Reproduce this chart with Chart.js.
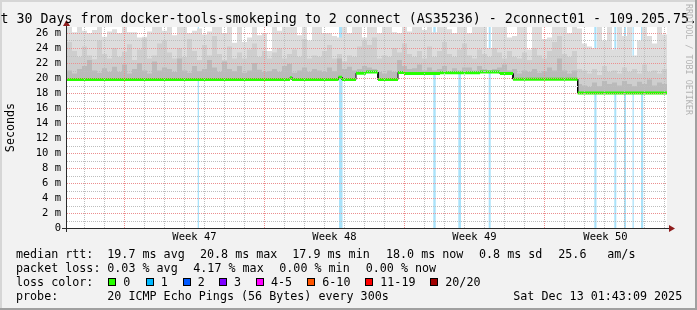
<!DOCTYPE html>
<html>
<head>
<meta charset="utf-8">
<script src="https://cdn.jsdelivr.net/npm/chart.js@4.4.1/dist/chart.umd.min.js"></script>
<style>
  html, body { margin: 0; padding: 0; background: #f2f2f2; }
  canvas { display: block; }
</style>
</head>
<body>
<canvas id="smokeChart" width="697" height="310"></canvas>
<script>
// ====================================================================
// DADOS - eixo x em dias desde o início da janela
// ====================================================================
const totalDays = 30;
const colStep = 0.25; // cada coluna de fumaça = 6 h

// topo de cada faixa de fumaça, por coluna (ms)
const smokeLight = [
  26.8, 26.1, 26.8, 26.3, 26.0, 26.4, 26.8, 25.5, 26.2, 26.5,
  26.0, 26.8, 26.1, 26.1, 25.4, 25.5, 26.2, 26.8, 26.8, 26.3,
  26.8, 25.7, 26.8, 26.8, 26.0, 26.3, 26.6, 25.8, 26.2, 26.8,
  26.8, 26.0, 26.8, 24.7, 26.8, 24.8, 25.4, 26.8, 25.7, 26.0,
  23.6, 26.8, 26.3, 26.8, 26.8, 26.8, 25.7, 26.8, 25.0, 26.8,
  26.8, 26.0, 26.0, 25.6, 25.4, 26.8, 26.0, 26.8, 26.8, 25.4,
  26.8, 26.8, 26.0, 26.8, 26.8, 26.1, 26.0, 26.8, 26.2, 26.8,
  26.8, 26.4, 26.8, 26.1, 26.8, 26.8, 26.5, 26.0, 26.8, 26.8,
  26.0, 26.8, 26.8, 26.8, 24.0, 26.8, 26.8, 26.8, 25.4, 25.6,
  26.8, 26.8, 23.8, 26.8, 26.8, 25.2, 25.4, 26.8, 26.8, 26.8,
  26.0, 26.8, 26.6, 24.6, 24.2, 24.0, 26.8, 25.0, 26.8, 23.8,
  26.8, 25.6, 26.8, 23.0, 25.0, 26.8, 25.6, 24.6, 26.8, 25.8
];
const smokeMid = [
  24.8, 23.6, 22.8, 24.2, 23.0, 22.5, 25.0, 23.2, 22.6, 24.0,
  22.8, 23.5, 24.5, 22.4, 23.8, 25.3, 22.6, 23.0, 24.6, 25.0,
  23.4, 22.6, 24.0, 22.8, 25.2, 23.6, 22.4, 24.4, 23.0, 25.6,
  23.2, 22.4, 24.2, 22.6, 23.4, 22.6, 23.8, 24.6, 22.8, 23.6,
  22.6, 23.4, 24.0, 22.6, 23.2, 23.8, 22.8, 25.2, 22.6, 23.0,
  22.8, 23.6, 24.4, 22.6, 23.2, 22.2, 23.0, 22.8, 24.2, 25.0,
  24.4, 25.4, 22.6, 23.0, 22.8, 24.0, 23.4, 24.6, 23.2, 22.8,
  23.6, 22.6, 24.2, 22.8, 23.6, 24.8, 23.2, 22.8, 23.8, 24.6,
  23.0, 22.6, 23.8, 23.2, 22.8, 24.0, 23.4, 22.6, 23.6, 22.8,
  22.6, 23.4, 22.4, 24.0, 23.0, 22.6, 23.6, 24.8, 25.6, 23.2,
  22.8, 23.6, 21.2, 21.0, 20.6, 21.2, 20.4, 21.6, 20.8, 21.0,
  20.6, 21.4, 20.8, 21.2, 20.6, 21.8, 20.8, 21.0, 20.6, 21.2
];
const smokeDark = [
  21.0, 20.6, 21.2, 21.6, 22.4, 21.0, 20.7, 21.3, 20.8, 21.5,
  20.8, 21.8, 20.6, 21.2, 22.0, 21.0, 20.6, 22.2, 21.0, 21.4,
  21.2, 20.8, 22.6, 21.0, 20.7, 21.6, 20.9, 21.2, 22.4, 21.4,
  20.8, 22.2, 21.2, 20.9, 21.6, 20.7, 21.0, 22.0, 21.1, 20.8,
  20.9, 21.2, 20.8, 21.6, 21.9, 20.7, 21.0, 21.4, 20.8, 21.2,
  21.0, 20.8, 21.4, 20.9, 22.6, 21.2, 21.5, 21.0, 21.2, 21.6,
  21.4, 21.2, 20.8, 20.6, 21.0, 20.8, 22.4, 21.6, 21.2, 21.3,
  21.8, 21.0, 21.4, 21.0, 21.2, 21.6, 20.9, 21.3, 21.0, 21.4,
  21.4, 21.0, 21.6, 21.2, 21.0, 21.2, 21.4, 21.8, 21.0, 21.2,
  20.6, 21.0, 20.8, 21.2, 20.7, 20.9, 21.4, 21.0, 22.6, 21.0,
  20.6, 21.0, 19.2, 19.0, 18.8, 19.4, 18.9, 19.6, 19.2, 19.4,
  19.0, 19.6, 19.2, 18.9, 19.5, 19.2, 19.8, 19.0, 19.4, 19.2
];

// mediana: início de cada patamar (dia) e valor (ms)
const medianDay = [0, 11.15, 11.25, 13.575, 13.75, 14.45, 14.95, 15.55, 16.55, 16.85, 18.65, 20.65, 21.65, 22.3, 25.535];
const medianVal = [19.8, 20.05, 19.8, 20.1, 19.8, 20.65, 20.8, 19.8, 20.75, 20.6, 20.7, 20.8, 20.6, 19.85, 18.0];

// barras de perda (início em dias, largura em dias)
const lossDay   = [6.535, 13.6, 18.315, 19.565, 21.085, 26.365, 27.365, 27.85, 28.275, 28.7];
const lossWidth = [0.065, 0.175, 0.12, 0.135, 0.1, 0.11, 0.1, 0.1, 0.065, 0.11];

// eixos
const yMax = 26.8;
const yTicks = [0, 1, 2, 3, 4, 5, 6, 7, 8, 9, 10, 11, 12, 13, 14, 15, 16, 17, 18, 19, 20, 21, 22, 23, 24, 25, 26];
const firstDayLine = 0.865;
const weekLines = [2.865, 9.865, 16.865, 23.865];
const weekPos = [6.375, 13.375, 20.375, 26.925];
const weekLabels = ['Week 47', 'Week 48', 'Week 49', 'Week 50'];

// legenda
const rttValues = ['19.7', '20.8', '17.9', '18.0', '0.8'];
const rttNames = ['avg', 'max', 'min', 'now', 'sd'];
const amsValue = '25.6';
const lossValues = ['0.03', '4.17', '0.00', '0.00'];
const lossNames = ['avg', 'max', 'min', 'now'];
const lossLabels = ['0', '1', '2', '3', '4-5', '6-10', '11-19', '20/20'];
const lossColors = ['#26ff00', '#00b8ff', '#0059ff', '#7e00ff', '#ff00ff', '#ff5500', '#ff0000', '#a00000'];

const MONO = '"DejaVu Sans Mono", monospace';

// ====================================================================
// MONTAGEM DOS PONTOS
// ====================================================================
function stepPoints(values) {
    const pts = [];
    values.forEach((v, i) => {
        pts.push({ x: i * colStep, y: v });
        pts.push({ x: (i + 1) * colStep, y: v });
    });
    return pts;
}

const medianLine = [];
const medianGreen = [];
medianDay.forEach((d, i) => {
    const end = i + 1 < medianDay.length ? medianDay[i + 1] : totalDays;
    medianLine.push({ x: d, y: medianVal[i] });
    medianLine.push({ x: end, y: medianVal[i] });
    medianGreen.push({ x: d, y: medianVal[i] });
    medianGreen.push({ x: end, y: medianVal[i] });
    medianGreen.push({ x: end, y: null });
});

const lossPoints = [{ x: 0, y: 0 }];
lossDay.forEach((d, i) => {
    lossPoints.push({ x: d, y: 0 });
    lossPoints.push({ x: d, y: yMax });
    lossPoints.push({ x: d + lossWidth[i], y: yMax });
    lossPoints.push({ x: d + lossWidth[i], y: 0 });
});
lossPoints.push({ x: totalDays, y: 0 });

const dayLines = [];
for (let k = 0; firstDayLine + k < totalDays; k++) dayLines.push(firstDayLine + k);

function isWeekLine(v) { return weekLines.some(w => Math.abs(w - v) < 1e-6); }

const GRID_MAJOR = '#ec8f8f';
const GRID_MINOR = '#bdbdbd';

// grade pontilhada pixel a pixel, desenhada por cima de tudo (como o rrdtool)
function drawGrid(chart) {
    const c = chart.ctx, a = chart.chartArea;
    const sx = chart.scales.x, sy = chart.scales.y;
    const left = Math.round(a.left), right = Math.round(a.right);
    const top = Math.round(a.top), bottom = Math.round(a.bottom);
    yTicks.forEach(v => {
        if (v === 0) return;
        const py = Math.round(sy.getPixelForValue(v));
        c.fillStyle = v % 2 === 0 ? GRID_MAJOR : GRID_MINOR;
        for (let px = left; px < right; px += 2) c.fillRect(px, py, 1, 1);
    });
    dayLines.forEach(v => {
        const px = Math.round(sx.getPixelForValue(v));
        c.fillStyle = isWeekLine(v) ? GRID_MAJOR : GRID_MINOR;
        for (let py = top; py < bottom; py += 2) c.fillRect(px, py, 1, 1);
    });
}

// ====================================================================
// MOLDURA, EIXOS E TEXTOS
// ====================================================================
const chromePlugin = {
    id: 'chrome',
    beforeDraw(chart) {
        const c = chart.ctx, a = chart.chartArea;
        c.save();
        c.fillStyle = '#f2f2f2';
        c.fillRect(0, 0, 697, 310);
        c.fillStyle = '#d6d6d6';
        c.fillRect(0, 0, 697, 2);
        c.fillRect(0, 0, 2, 310);
        c.fillStyle = '#a0a0a0';
        c.fillRect(0, 308, 697, 2);
        c.fillRect(695, 0, 2, 310);
        c.fillStyle = '#ffffff';
        c.fillRect(a.left, a.top, a.right - a.left, a.bottom - a.top);
        c.restore();
    },
    afterDraw(chart) {
        const c = chart.ctx, a = chart.chartArea;
        c.save();

        drawGrid(chart);

        // eixos
        c.strokeStyle = '#2a2a2a';
        c.lineWidth = 1;
        c.beginPath();
        c.moveTo(62, a.bottom + 0.5);
        c.lineTo(670, a.bottom + 0.5);
        c.moveTo(a.left - 0.5, a.bottom + 4);
        c.lineTo(a.left - 0.5, 25);
        c.stroke();

        c.fillStyle = '#8e1c1c';
        c.beginPath();
        c.moveTo(669, a.bottom - 3);
        c.lineTo(675, a.bottom + 0.5);
        c.lineTo(669, a.bottom + 4);
        c.closePath();
        c.fill();
        c.beginPath();
        c.moveTo(a.left - 4, 26);
        c.lineTo(a.left - 0.5, 20);
        c.lineTo(a.left + 3, 26);
        c.closePath();
        c.fill();

        // título
        c.fillStyle = '#000';
        c.font = '13.3px ' + MONO;
        c.textAlign = 'left';
        c.textBaseline = 'alphabetic';
        c.fillText('t 30 Days from docker-tools-smokeping to 2 connect (AS35236) - 2connect01 - 109.205.75.', 0.5, 23.3);

        // rótulo vertical
        c.save();
        c.font = '11.7px ' + MONO;
        c.translate(10.5, 127.5);
        c.rotate(-Math.PI / 2);
        c.textAlign = 'center';
        c.textBaseline = 'middle';
        c.fillText('Seconds', 0, 0);
        c.restore();

        // marca d'água
        c.save();
        c.font = '8.4px ' + MONO;
        c.fillStyle = '#b4b4b4';
        c.translate(685.5, 4);
        c.rotate(Math.PI / 2);
        c.textAlign = 'left';
        c.textBaseline = 'alphabetic';
        c.fillText('RRDTOOL / TOBI OETIKER', 0, 0);
        c.restore();

        // legenda
        c.font = '11.7px ' + MONO;
        c.fillStyle = '#000';
        const rttX = [107.3, 200, 292.3, 386, 479];
        c.fillText('median rtt:', 16, 258);
        rttValues.forEach((v, i) => {
            c.fillText(v + ' ms ' + rttNames[i], rttX[i], 258);
        });
        c.fillText(amsValue, 558.3, 258);
        c.fillText('am/s', 607.3, 258);

        const lossX = [107.3, 193.3, 279.3, 365.7];
        c.fillText('packet loss:', 16, 272);
        lossValues.forEach((v, i) => {
            c.fillText(v + ' % ' + lossNames[i], lossX[i], 272);
        });

        const boxX = [108.3, 145.7, 182.7, 219, 256, 307.3, 365.3, 430.3];
        c.fillText('loss color:', 16, 286);
        lossLabels.forEach((lab, i) => {
            const bx = Math.round(boxX[i]);
            c.fillStyle = lossColors[i];
            c.fillRect(bx, 278, 8, 8);
            c.strokeStyle = '#000';
            c.strokeRect(bx + 0.5, 278.5, 7, 7);
            c.fillStyle = '#000';
            c.fillText(lab, boxX[i] + 15, 286);
        });

        c.fillText('probe:', 16, 299.5);
        c.fillText('20 ICMP Echo Pings (56 Bytes) every 300s', 107.3, 299.5);
        c.fillText('Sat Dec 13 01:43:09 2025', 513.3, 299.5);

        c.restore();
    }
};

// ====================================================================
// GRÁFICO
// ====================================================================
const lineBase = { pointRadius: 0, tension: 0, spanGaps: false };

new Chart(document.getElementById('smokeChart').getContext('2d'), {
    type: 'line',
    data: {
        datasets: [
            { ...lineBase, label: 'median', data: medianLine, borderColor: '#000', borderWidth: 1, fill: false, order: 2 },
            { ...lineBase, label: 'median-color', data: medianGreen, borderColor: lossColors[0], borderWidth: 3, borderCapStyle: 'butt', fill: false, order: 1 },
            { ...lineBase, label: 'smoke-light', data: stepPoints(smokeLight), borderWidth: 0, backgroundColor: '#dddddd', fill: 0, order: 5 },
            { ...lineBase, label: 'smoke-mid', data: stepPoints(smokeMid), borderWidth: 0, backgroundColor: '#cecece', fill: 0, order: 4 },
            { ...lineBase, label: 'smoke-dark', data: stepPoints(smokeDark), borderWidth: 0, backgroundColor: '#bababa', fill: 0, order: 3 },
            { ...lineBase, label: 'loss', data: lossPoints, borderWidth: 0, backgroundColor: '#a9e2fa', fill: 'origin', order: 6 }
        ]
    },
    options: {
        responsive: false,
        devicePixelRatio: 1,
        animation: false,
        events: [],
        layout: { padding: { left: 0, right: 30, top: 27, bottom: 62 } },
        plugins: { legend: { display: false }, tooltip: { enabled: false } },
        scales: {
            x: {
                type: 'linear',
                min: 0,
                max: totalDays,
                afterFit: s => { s.height = 20; },
                afterBuildTicks: s => { s.ticks = weekPos.map(v => ({ value: v })); },
                ticks: {
                    autoSkip: false,
                    maxRotation: 0,
                    padding: 3,
                    color: '#000',
                    font: { family: MONO, size: 10.5 },
                    callback: v => {
                        const i = weekPos.indexOf(v);
                        return i >= 0 ? weekLabels[i] : '';
                    }
                },
                grid: { display: false, drawTicks: false },
                border: { display: false }
            },
            y: {
                type: 'linear',
                min: 0,
                max: yMax,
                afterFit: s => { s.width = 67; },
                afterBuildTicks: s => { s.ticks = yTicks.map(v => ({ value: v })); },
                ticks: {
                    autoSkip: false,
                    padding: 6,
                    color: '#000',
                    font: { family: MONO, size: 10.5 },
                    callback: v => (v % 2 ? '' : (v === 0 ? '0' : v + ' m'))
                },
                grid: { display: false, drawTicks: false },
                border: { display: false }
            }
        }
    },
    plugins: [chromePlugin]
});
</script>
</body>
</html>
